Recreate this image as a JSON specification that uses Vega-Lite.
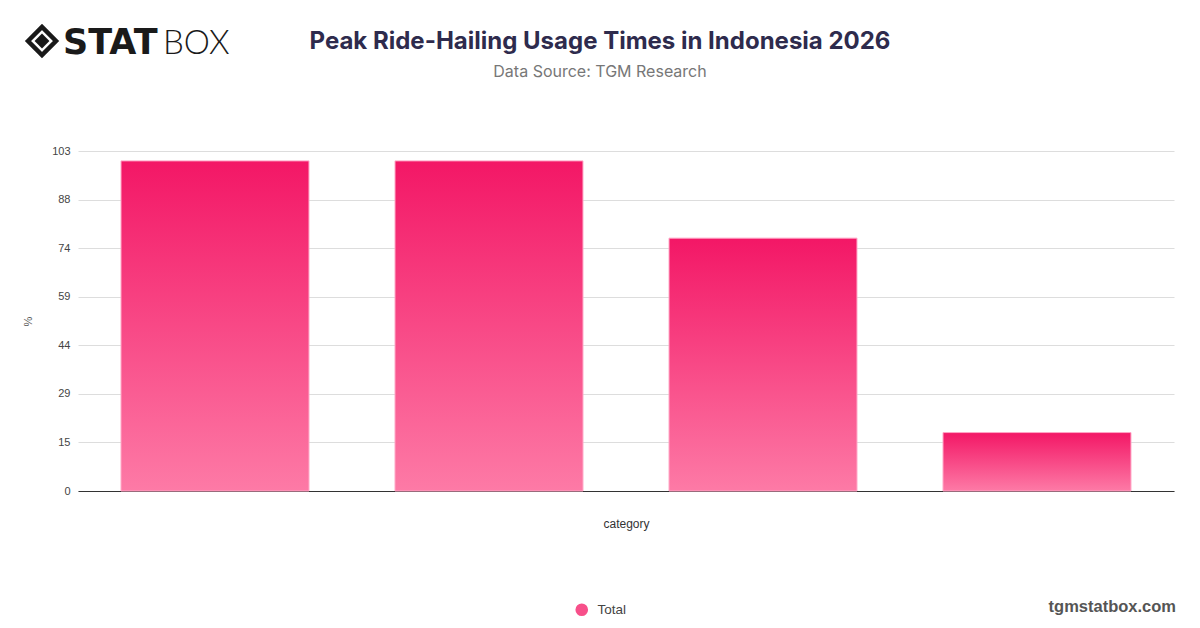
{
  "$schema": "https://vega.github.io/schema/vega-lite/v6.json",
  "width": 1096,
  "height": 340,
  "autosize": {"type": "none"},
  "padding": {"left": 78, "top": 151, "right": 26, "bottom": 137},
  "background": "#ffffff",
  "config": {
    "view": {"stroke": null},
    "font": "Liberation Sans"
  },
  "title": {
    "text": "Peak Ride-Hailing Usage Times in Indonesia 2026",
    "subtitle": "Data Source: TGM Research",
    "anchor": "middle",
    "frame": "group",
    "dx": -26,
    "offset": -62,
    "font": "Inter",
    "fontSize": 24,
    "fontWeight": 700,
    "color": "#2e2b4d",
    "subtitleFont": "Inter",
    "subtitleFontSize": 16,
    "subtitleColor": "#777777",
    "subtitlePadding": 10
  },
  "layer": [
    {
      "data": {"values": [
        {"category": "Category 1", "value": 100, "series": "Total"},
        {"category": "Category 2", "value": 100, "series": "Total"},
        {"category": "Category 3", "value": 76.6, "series": "Total"},
        {"category": "Category 4", "value": 17.7, "series": "Total"}
      ]},
      "layer": [
        {
          "mark": {
            "type": "bar",
            "fill": {
              "gradient": "linear",
              "x1": 0, "y1": 0, "x2": 0, "y2": 1,
              "stops": [
                {"offset": 0, "color": "#f31766"},
                {"offset": 1, "color": "#fd7aa6"}
              ]
            },
            "stroke": "#ffa6c6",
            "strokeWidth": 1
          },
          "encoding": {
            "x": {
              "field": "category",
              "type": "nominal",
              "sort": null,
              "scale": {"paddingInner": 0.314, "paddingOuter": 0.157},
              "axis": {
                "title": "category",
                "labels": false,
                "ticks": false,
                "domain": true,
                "domainColor": "#333333",
                "domainWidth": 1,
                "titleFont": "Liberation Sans",
                "titleFontSize": 12,
                "titleFontWeight": "normal",
                "titleColor": "#333333",
                "titlePadding": 27
              }
            },
            "y": {
              "field": "value",
              "type": "quantitative",
              "scale": {"domain": [0, 103], "nice": false, "zero": true},
              "axis": {
                "title": "%",
                "values": [0, 14.714, 29.429, 44.143, 58.857, 73.571, 88.286, 103],
                "format": ".0f",
                "domain": false,
                "ticks": false,
                "grid": true,
                "gridColor": "#dddddd",
                "gridWidth": 1,
                "labelFont": "Liberation Sans",
                "labelFontSize": 11,
                "labelColor": "#444444",
                "labelPadding": 8,
                "titleFont": "Liberation Sans",
                "titleFontSize": 11,
                "titleFontWeight": "normal",
                "titleColor": "#555555",
                "titlePadding": 18
              }
            }
          }
        },
        {
          "mark": {"type": "point", "filled": true, "opacity": 0, "shape": "circle"},
          "encoding": {
            "x": {"field": "category", "type": "nominal", "sort": null},
            "y": {"field": "value", "type": "quantitative"},
            "color": {
              "field": "series",
              "type": "nominal",
              "scale": {"range": ["#f7508a"]},
              "legend": {
                "title": null,
                "orient": "none",
                "legendX": 497,
                "legendY": 452,
                "symbolType": "circle",
                "symbolSize": 160,
                "symbolOpacity": 1,
                "symbolStrokeWidth": 0,
                "labelFont": "Liberation Sans",
                "labelFontSize": 13.5,
                "labelColor": "#444444",
                "labelOffset": 9
              }
            }
          }
        }
      ]
    },
    {
      "data": {"values": [{"label": "STAT"}]},
      "mark": {"type": "text", "align": "left", "baseline": "alphabetic", "font": "DejaVu Sans", "fontWeight": "bold", "fontSize": 35, "color": "#1a1a1a"},
      "encoding": {"x": {"value": -15}, "y": {"value": -97}, "text": {"field": "label"}}
    },
    {
      "data": {"values": [{"label": "BOX"}]},
      "mark": {"type": "text", "align": "left", "baseline": "alphabetic", "font": "Lato", "fontWeight": 300, "fontSize": 33, "color": "#1a1a1a"},
      "encoding": {"x": {"value": 85}, "y": {"value": -97}, "text": {"field": "label"}}
    },
    {
      "data": {"values": [{"s": "outer"}]},
      "mark": {"type": "point", "shape": "diamond", "filled": false, "size": 784, "strokeWidth": 4.5, "color": "#1a1a1a", "opacity": 1},
      "encoding": {"x": {"value": -36}, "y": {"value": -110}}
    },
    {
      "data": {"values": [{"s": "inner"}]},
      "mark": {"type": "point", "shape": "diamond", "filled": true, "size": 220, "color": "#1a1a1a", "opacity": 1},
      "encoding": {"x": {"value": -36}, "y": {"value": -110}}
    },
    {
      "data": {"values": [{"label": "tgmstatbox.com"}]},
      "mark": {"type": "text", "align": "right", "baseline": "alphabetic", "font": "Liberation Sans", "fontWeight": "bold", "fontSize": 16.5, "color": "#555555"},
      "encoding": {"x": {"value": 1098}, "y": {"value": 461}, "text": {"field": "label"}}
    }
  ]
}
